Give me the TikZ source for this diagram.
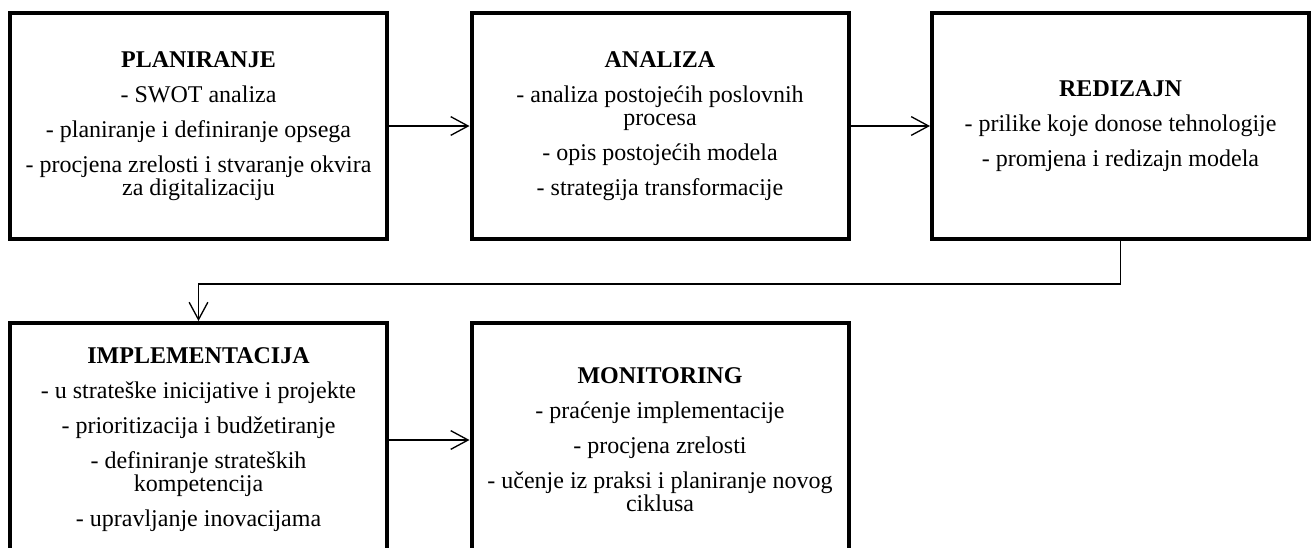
\documentclass[tikz,border=0pt]{standalone}
\usepackage{fontspec}
\setmainfont{Liberation Serif}
\usetikzlibrary{arrows.meta}
\begin{document}
\begin{tikzpicture}[x=0.75pt,y=-0.75pt,
  box/.style={draw, line width=3pt, minimum width=282.75pt, minimum height=169.5pt,
    align=center, inner sep=0pt, font=\fontsize{18}{17.25}\selectfont},
  conn/.style={line width=1pt, -{Straight Barb[length=13pt,width=14pt,line width=1pt]}}]
\useasboundingbox (0,0) rectangle (1314,547);
\clip (0,0) rectangle (1314,547);
\node[box] (b1) at (198.5,126) {\textbf{PLANIRANJE}\\[9pt]- SWOT analiza\\[9pt]- planiranje i definiranje opsega\\[9pt]- procjena zrelosti i stvaranje okvira\\za digitalizaciju};
\node[box] (b2) at (660,126) {\textbf{ANALIZA}\\[9pt]- analiza postojećih poslovnih\\procesa\\[9pt]- opis postojećih modela\\[9pt]- strategija transformacije};
\node[box] (b3) at (1120.5,126) {\textbf{REDIZAJN}\\[9pt]- prilike koje donose tehnologije\\[9pt]- promjena i redizajn modela};
\node[box, minimum height=175.5pt] (b4) at (198.5,440) {\textbf{IMPLEMENTACIJA}\\[9pt]- u strateške inicijative i projekte\\[9pt]- prioritizacija i budžetiranje\\[9pt]- definiranje strateških\\kompetencija\\[9pt]- upravljanje inovacijama};
\node[box, minimum height=175.5pt] (b5) at (660,440) {\textbf{MONITORING}\\[9pt]- praćenje implementacije\\[9pt]- procjena zrelosti\\[9pt]- učenje iz praksi i planiranje novog\\ciklusa};
\draw[conn] (b1.east) -- (b2.west);
\draw[conn] (b2.east) -- (b3.west);
\draw[conn] (b3.south) -- ++(0,43) -| (b4.north);
\draw[conn] (b4.east) -- (b5.west);
\end{tikzpicture}
\end{document}
